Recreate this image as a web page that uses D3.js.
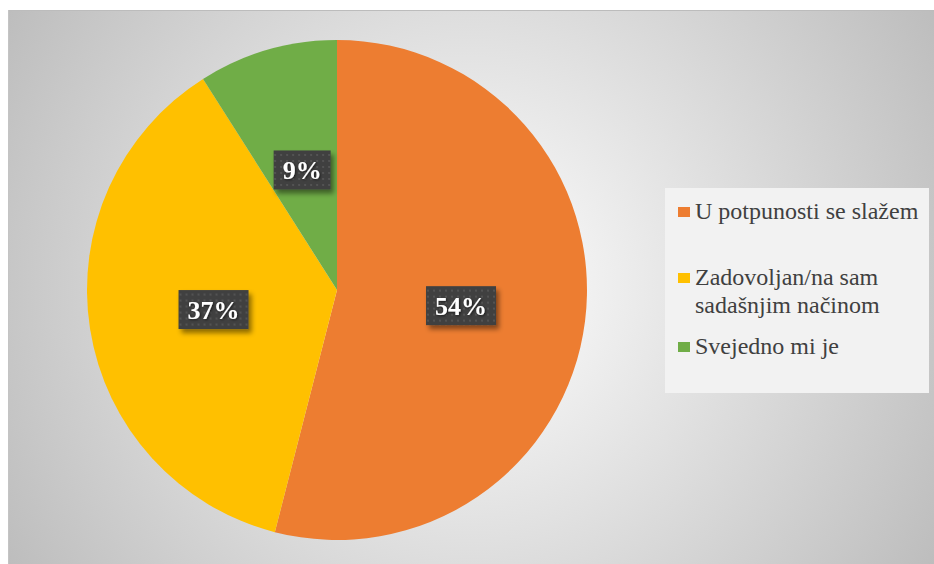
<!DOCTYPE html>
<html>
<head>
<meta charset="utf-8">
<script src="https://cdn.jsdelivr.net/npm/d3@7"></script>
<style>
  html, body { margin: 0; padding: 0; background: #ffffff; }
  svg { display: block; }
</style>
</head>
<body>
<svg id="chart" width="934" height="564"></svg>
<script>
// Survey answers and their shares (percent)
const categories = ["U potpunosti se slažem", "Zadovoljan/na sam sadašnjim načinom", "Svejedno mi je"];
const values = [54, 37, 9];
const colors = ["#ED7D31", "#FFC000", "#70AD47"];

const W = 934, H = 564;
const serif = "'Liberation Serif', 'Times New Roman', serif";
const svg = d3.select("#chart");
const defs = svg.append("defs");

// Radial grey backdrop of the chart area
const bg = defs.append("radialGradient")
  .attr("id", "bgGrad")
  .attr("gradientUnits", "userSpaceOnUse")
  .attr("cx", 471).attr("cy", 287).attr("r", 540);
bg.append("stop").attr("offset", "0%").attr("stop-color", "#ffffff");
bg.append("stop").attr("offset", "100%").attr("stop-color", "#bdbdbd");

// Dotted texture for the value labels
const pat = defs.append("pattern")
  .attr("id", "dots")
  .attr("patternUnits", "userSpaceOnUse")
  .attr("width", 6).attr("height", 6);
pat.append("rect").attr("width", 6).attr("height", 6).attr("fill", "#404040");
pat.append("circle").attr("cx", 3).attr("cy", 3).attr("r", 1).attr("fill", "#595959");

// Soft drop shadows
const sh = defs.append("filter").attr("id", "boxShadow")
  .attr("x", "-30%").attr("y", "-30%").attr("width", "170%").attr("height", "190%");
sh.append("feDropShadow").attr("dx", 3).attr("dy", 4).attr("stdDeviation", 2.5)
  .attr("flood-color", "#000").attr("flood-opacity", 0.45);
const tsh = defs.append("filter").attr("id", "textShadow")
  .attr("x", "-20%").attr("y", "-20%").attr("width", "150%").attr("height", "160%");
tsh.append("feDropShadow").attr("dx", 1).attr("dy", 1).attr("stdDeviation", 0.8)
  .attr("flood-color", "#000").attr("flood-opacity", 0.6);

// Chart area
svg.append("rect")
  .attr("x", 8).attr("y", 10).attr("width", W - 8).attr("height", H - 10)
  .attr("fill", "url(#bgGrad)");
svg.append("line").attr("x1", 8).attr("x2", W).attr("y1", 10.5).attr("y2", 10.5)
  .attr("stroke", "#bcbcbc").attr("stroke-width", 1);
svg.append("line").attr("x1", 8.5).attr("x2", 8.5).attr("y1", 10).attr("y2", H)
  .attr("stroke", "#c4c4c4").attr("stroke-width", 1);

// Pie
const cx = 337, cy = 290, R = 250;
const pie = d3.pie().sort(null).value(d => d.value);
const arcs = pie(values.map((v, i) => ({ value: v, name: categories[i], color: colors[i] })));
const arc = d3.arc().innerRadius(0).outerRadius(R);

const g = svg.append("g").attr("transform", `translate(${cx},${cy})`);
g.selectAll("path.slice")
  .data(arcs)
  .join("path")
  .attr("class", "slice")
  .attr("d", arc)
  .attr("fill", d => d.data.color);

// Value labels
const labels = g.selectAll("g.lbl")
  .data(arcs)
  .join("g")
  .attr("class", "lbl")
  .attr("transform", d => `translate(${arc.centroid(d)})`);

labels.each(function (d) {
  const sel = d3.select(this);
  const box = sel.append("rect").attr("fill", "url(#dots)").attr("filter", "url(#boxShadow)");
  const t = sel.append("text")
    .attr("text-anchor", "middle")
    .attr("dy", "0.35em")
    .attr("font-family", serif)
    .attr("font-weight", "bold")
    .attr("font-size", 26)
    .attr("fill", "#ffffff")
    .attr("filter", "url(#textShadow)")
    .text(d.data.value + "%");
  const w = t.node().getComputedTextLength();
  const bw = w + 18, bh = 39;
  box.attr("x", -bw / 2).attr("y", -bh / 2).attr("width", bw).attr("height", bh);
});

// Legend
const legend = svg.append("g");
legend.append("rect")
  .attr("x", 665).attr("y", 188).attr("width", 264).attr("height", 205)
  .attr("fill", "#f2f2f2");

const legendFont = 24;
const lineH = 28;
const maxW = 228;
const itemBaselines = [219, 285, 354];

categories.forEach((name, i) => {
  const it = legend.append("g");
  it.append("rect")
    .attr("x", 678).attr("y", itemBaselines[i] - 12)
    .attr("width", 12).attr("height", 10)
    .attr("fill", colors[i]);
  const txt = it.append("text")
    .attr("x", 695).attr("y", itemBaselines[i])
    .attr("font-family", serif)
    .attr("font-size", legendFont)
    .attr("fill", "#404040");
  // wrap words onto lines no wider than maxW
  const words = name.split(" ");
  let line = [];
  let tspan = txt.append("tspan").attr("x", 695).attr("dy", 0);
  words.forEach(wd => {
    line.push(wd);
    tspan.text(line.join(" "));
    if (tspan.node().getComputedTextLength() > maxW && line.length > 1) {
      line.pop();
      tspan.text(line.join(" "));
      line = [wd];
      tspan = txt.append("tspan").attr("x", 695).attr("dy", lineH).text(wd);
    }
  });
});
</script>
</body>
</html>
